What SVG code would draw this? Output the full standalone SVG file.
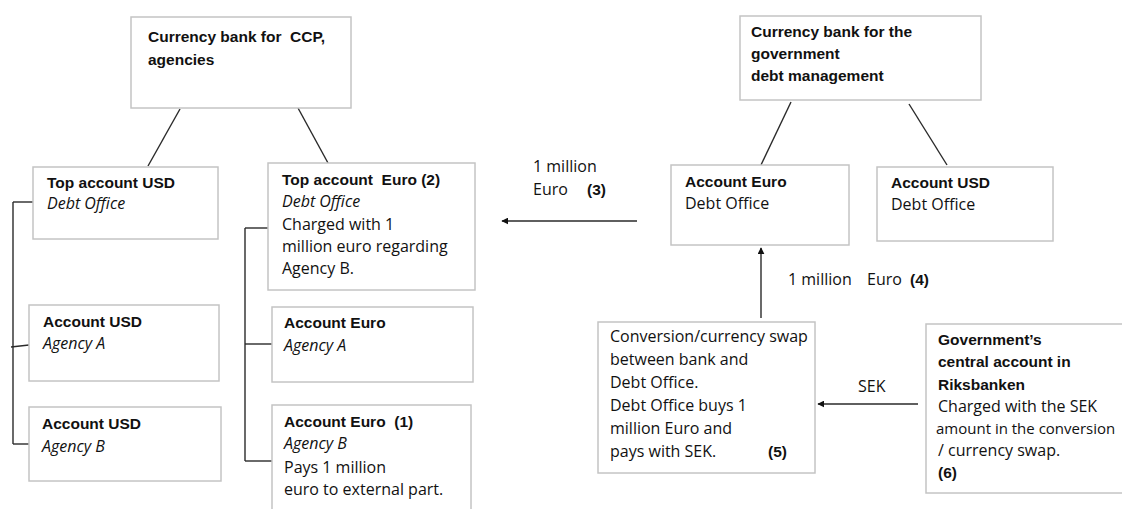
<svg xmlns="http://www.w3.org/2000/svg" width="1122" height="509" viewBox="0 0 1122 509">
<style>
  .box { fill: #ffffff; stroke: #c4c4c4; stroke-width: 1.5; }
  .t { font-family: "Open Sans", "Liberation Sans", sans-serif; font-size: 16px; fill: #111111; }
  .b { font-family: "Liberation Sans", Arial, sans-serif; font-size: 15.5px; font-weight: bold; fill: #111111; }
  .i { font-family: "Open Sans", "Liberation Sans", sans-serif; font-size: 16px; font-style: italic; fill: #111111; }
  .c { stroke: #2a2a2a; stroke-width: 1.4; fill: none; }
  .a { stroke: #2a2a2a; stroke-width: 1.4; fill: none; marker-end: url(#ah); }
</style>
<defs>
  <marker id="ah" viewBox="0 0 10 10" refX="9" refY="5" markerWidth="7" markerHeight="7" orient="auto" markerUnits="userSpaceOnUse">
    <path d="M0,0 L10,5 L0,10 z" fill="#111111"/>
  </marker>
</defs>
<rect width="1122" height="509" fill="#ffffff"/>

<g id="connectors">
  <line class="c" x1="180" y1="109" x2="148" y2="166"/>
  <line class="c" x1="298" y1="108" x2="328" y2="163"/>
  <line class="c" x1="13" y1="202" x2="13" y2="444"/>
  <line class="c" x1="13" y1="202" x2="33" y2="202"/>
  <line class="c" x1="11" y1="347" x2="29" y2="345"/>
  <line class="c" x1="13" y1="444" x2="29" y2="444"/>
  <line class="c" x1="245" y1="228" x2="245" y2="461"/>
  <line class="c" x1="245" y1="228" x2="268" y2="228"/>
  <line class="c" x1="245" y1="344" x2="272" y2="344"/>
  <line class="c" x1="245" y1="461" x2="272" y2="461"/>
  <line class="c" x1="791" y1="102" x2="761" y2="165"/>
  <line class="c" x1="909" y1="104" x2="947" y2="165"/>
  <line class="a" x1="637" y1="221" x2="502" y2="221"/>
  <line class="a" x1="761" y1="318" x2="761" y2="248"/>
  <line class="a" x1="918" y1="404" x2="818" y2="404"/>
  <text class="t" x="533" y="172">1 million</text>
  <text class="t" x="533" y="195">Euro</text>
  <text class="b" x="587" y="195">(3)</text>
  <text class="t" x="788" y="285">1 million</text>
  <text class="t" x="867" y="285">Euro</text>
  <text class="b" x="910" y="285">(4)</text>
  <text class="t" x="858" y="392">SEK</text>
</g>

<g id="bank-ccp">
  <rect class="box" x="131" y="17" width="220" height="91"/>
  <text class="b" x="148" y="42" xml:space="preserve">Currency bank for  CCP,</text>
  <text class="b" x="148" y="65">agencies</text>
</g>

<g id="top-usd">
  <rect class="box" x="33" y="167" width="185" height="72"/>
  <text class="b" x="47" y="188">Top account USD</text>
  <text class="i" x="47" y="209">Debt Office</text>
</g>

<g id="top-euro">
  <rect class="box" x="268" y="163" width="207" height="127"/>
  <text class="b" x="282" y="185" xml:space="preserve">Top account  Euro (2)</text>
  <text class="i" x="282" y="207">Debt Office</text>
  <text class="t" x="282" y="230">Charged with 1</text>
  <text class="t" x="282" y="252">million euro regarding</text>
  <text class="t" x="282" y="274">Agency B.</text>
</g>

<g id="usd-agency-a">
  <rect class="box" x="29" y="305" width="190" height="76"/>
  <text class="b" x="43" y="327">Account USD</text>
  <text class="i" x="43" y="349">Agency A</text>
</g>

<g id="usd-agency-b">
  <rect class="box" x="29" y="407" width="192" height="74"/>
  <text class="b" x="42" y="429">Account USD</text>
  <text class="i" x="42" y="452">Agency B</text>
</g>

<g id="euro-agency-a">
  <rect class="box" x="272" y="307" width="201" height="75"/>
  <text class="b" x="284" y="328">Account Euro</text>
  <text class="i" x="284" y="351">Agency A</text>
</g>

<g id="euro-agency-b">
  <rect class="box" x="272" y="405" width="199" height="120"/>
  <text class="b" x="284" y="427" xml:space="preserve">Account Euro  (1)</text>
  <text class="i" x="284" y="449">Agency B</text>
  <text class="t" x="284" y="473">Pays 1 million</text>
  <text class="t" x="284" y="495">euro to external part.</text>
</g>

<g id="bank-gov">
  <rect class="box" x="740" y="16" width="241" height="84"/>
  <text class="b" x="751" y="37">Currency bank for the</text>
  <text class="b" x="751" y="59">government</text>
  <text class="b" x="751" y="81">debt management</text>
</g>

<g id="euro-debt-office">
  <rect class="box" x="671" y="165" width="178" height="80"/>
  <text class="b" x="685" y="187">Account Euro</text>
  <text class="t" x="685" y="209">Debt Office</text>
</g>

<g id="usd-debt-office">
  <rect class="box" x="877" y="167" width="176" height="74"/>
  <text class="b" x="891" y="188">Account USD</text>
  <text class="t" x="891" y="210">Debt Office</text>
</g>

<g id="conversion">
  <rect class="box" x="598" y="322" width="217" height="151"/>
  <text class="t" x="610" y="342">Conversion/currency swap</text>
  <text class="t" x="610" y="365">between bank and</text>
  <text class="t" x="610" y="388">Debt Office.</text>
  <text class="t" x="610" y="411">Debt Office buys 1</text>
  <text class="t" x="610" y="434">million Euro and</text>
  <text class="t" x="610" y="457">pays with SEK.</text>
  <text class="b" x="768" y="457">(5)</text>
</g>

<g id="government">
  <rect class="box" x="926" y="324" width="210" height="169"/>
  <text class="b" x="938" y="345">Government’s</text>
  <text class="b" x="938" y="367">central account in</text>
  <text class="b" x="938" y="390">Riksbanken</text>
  <text class="t" x="938" y="412">Charged with the SEK</text>
  <text class="t" x="936" y="434" style="font-size:15px">amount in the conversion</text>
  <text class="t" x="938" y="456">/ currency swap.</text>
  <text class="b" x="938" y="478">(6)</text>
</g>
</svg>
